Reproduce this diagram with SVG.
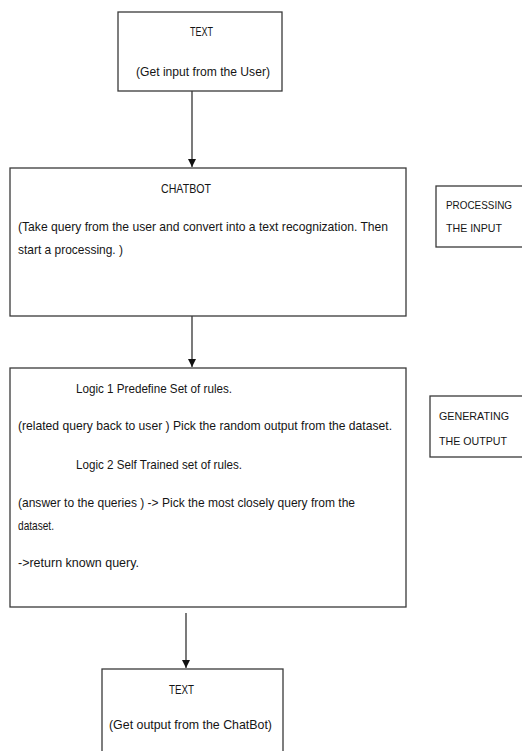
<svg xmlns="http://www.w3.org/2000/svg" width="522" height="751" viewBox="0 0 522 751">
<style>
.box{fill:#fff;stroke:#3a3a3a;stroke-width:1.3}
.t{font-family:"Liberation Sans",Arial,sans-serif;font-size:13.5px;fill:#151515}
.s{font-size:11px}
.edge{stroke:#222;stroke-width:1.2;fill:none}
</style>
<defs>
<marker id="ah" viewBox="0 0 8 10" refX="8" refY="5" markerWidth="8" markerHeight="10" orient="auto" markerUnits="userSpaceOnUse">
<path d="M0,1 L8,5 L0,9 Z" fill="#111"/>
</marker>
</defs>
<rect width="522" height="751" fill="#fff"/>
<g id="connectors">
<line class="edge" x1="192" y1="91" x2="192" y2="167" marker-end="url(#ah)"/>
<line class="edge" x1="192" y1="316" x2="192" y2="367" marker-end="url(#ah)"/>
<line class="edge" x1="186" y1="613" x2="186" y2="668" marker-end="url(#ah)"/>
</g>
<g id="input">
<rect class="box" x="118" y="12" width="164" height="79"/>
<text class="t" x="190" y="36" textLength="23" lengthAdjust="spacingAndGlyphs">TEXT</text>
<text class="t" x="136" y="76" textLength="134" lengthAdjust="spacingAndGlyphs">(Get input from the User)</text>
</g>
<g id="chatbot">
<rect class="box" x="10" y="168" width="396" height="148"/>
<text class="t" x="161" y="193" textLength="50" lengthAdjust="spacingAndGlyphs">CHATBOT</text>
<text class="t" x="18" y="231" textLength="370" lengthAdjust="spacingAndGlyphs">(Take query from the user and convert into a text recognization. Then</text>
<text class="t" x="18" y="254" textLength="105" lengthAdjust="spacingAndGlyphs">start a processing. )</text>
</g>
<g id="processing">
<rect class="box" x="436" y="186" width="90" height="61"/>
<text class="t s" x="446" y="209" textLength="66" lengthAdjust="spacingAndGlyphs">PROCESSING</text>
<text class="t s" x="446" y="232" textLength="56" lengthAdjust="spacingAndGlyphs">THE INPUT</text>
</g>
<g id="logic">
<rect class="box" x="10" y="368" width="396" height="239"/>
<text class="t" x="76" y="393" textLength="156" lengthAdjust="spacingAndGlyphs">Logic 1 Predefine Set of rules.</text>
<text class="t" x="18" y="430" textLength="374" lengthAdjust="spacingAndGlyphs">(related query back to user ) Pick the random output from the dataset.</text>
<text class="t" x="76" y="469" textLength="166" lengthAdjust="spacingAndGlyphs">Logic 2 Self Trained set of rules.</text>
<text class="t" x="18" y="507" textLength="337" lengthAdjust="spacingAndGlyphs">(answer to the queries ) -&gt; Pick the most closely query from the</text>
<text class="t" x="18" y="530" textLength="36" lengthAdjust="spacingAndGlyphs">dataset.</text>
<text class="t" x="18" y="567" textLength="121" lengthAdjust="spacingAndGlyphs">-&gt;return known query.</text>
</g>
<g id="generating">
<rect class="box" x="430" y="396" width="96" height="61"/>
<text class="t s" x="439" y="420" textLength="70" lengthAdjust="spacingAndGlyphs">GENERATING</text>
<text class="t s" x="439" y="445" textLength="68" lengthAdjust="spacingAndGlyphs">THE OUTPUT</text>
</g>
<g id="output">
<rect class="box" x="102" y="669" width="181" height="90"/>
<text class="t" x="169" y="694" textLength="25" lengthAdjust="spacingAndGlyphs">TEXT</text>
<text class="t" x="109" y="729" textLength="163" lengthAdjust="spacingAndGlyphs">(Get output from the ChatBot)</text>
</g>
</svg>
